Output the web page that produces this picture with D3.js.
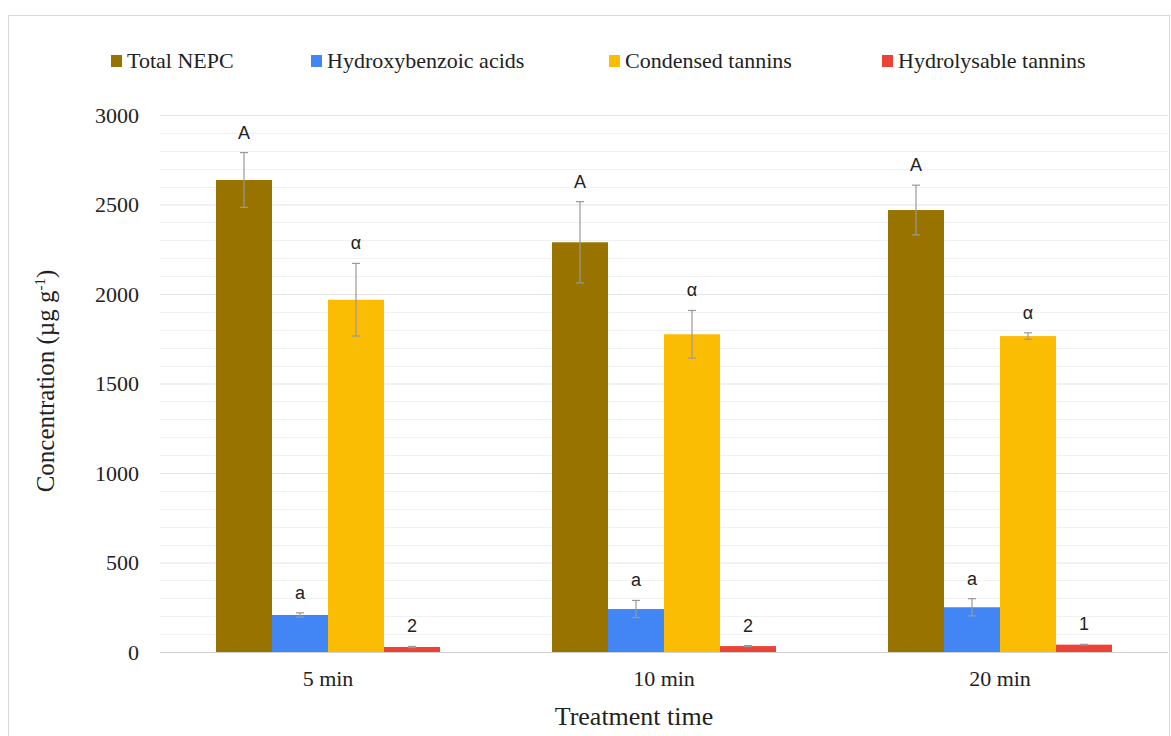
<!DOCTYPE html>
<html>
<head>
<meta charset="utf-8">
<script src="https://cdn.jsdelivr.net/npm/d3@7"></script>
<style>
  html, body { margin: 0; padding: 0; background: #fff; }
  svg { display: block; }
</style>
</head>
<body>
<svg id="chart" width="1171" height="736"></svg>
<script>
// Treatment times on the x axis
const categories = ["5 min", "10 min", "20 min"];
// Series names and colours
const seriesNames = ["Total NEPC", "Hydroxybenzoic acids", "Condensed tannins", "Hydrolysable tannins"];
const seriesColors = ["#997300", "#4285F4", "#FBBC04", "#EA4335"];

// Mean concentrations (µg g-1) and their error half-widths
const totalNEPC = [2637, 2289, 2469];
const totalNEPCErr = [153, 227, 139];
const hydroxybenzoic = [207, 240, 250];
const hydroxybenzoicErr = [12, 48, 48];
const condensedTannins = [1968, 1775, 1765];
const condensedTanninsErr = [203, 133, 18];
const hydrolysableTannins = [28, 33, 41];
const hydrolysableTanninsErr = [3, 3, 2];

// Significance letters above each bar
const totalNEPCLetters = ["A", "A", "A"];
const hydroxybenzoicLetters = ["a", "a", "a"];
const condensedLetters = ["α", "α", "α"];
const hydrolysableLetters = ["2", "2", "1"];

const yTicks = [0, 500, 1000, 1500, 2000, 2500, 3000];

const seriesValues = [totalNEPC, hydroxybenzoic, condensedTannins, hydrolysableTannins];
const seriesErrors = [totalNEPCErr, hydroxybenzoicErr, condensedTanninsErr, hydrolysableTanninsErr];
const seriesLetters = [totalNEPCLetters, hydroxybenzoicLetters, condensedLetters, hydrolysableLetters];

const rows = [];
categories.forEach((c, ci) => {
  seriesNames.forEach((s, si) => {
    rows.push({
      category: c, series: s, color: seriesColors[si],
      value: seriesValues[si][ci], err: seriesErrors[si][ci], letter: seriesLetters[si][ci]
    });
  });
});

const svg = d3.select("#chart");
const serif = "'Liberation Serif', 'Times New Roman', serif";
const sans = "'Liberation Sans', Arial, sans-serif";

// Outer frame
svg.append("rect")
  .attr("x", 8.5).attr("y", 15.5)
  .attr("width", 1161).attr("height", 740)
  .attr("fill", "#fff").attr("stroke", "#d9d9d9").attr("stroke-width", 1);

const plot = { left: 160, right: 1168, top: 115, bottom: 652 };

const y = d3.scaleLinear().domain([0, 3000]).range([plot.bottom, plot.top]);
const x0 = d3.scaleBand().domain(categories).range([plot.left, plot.right]).padding(0);
const bw = x0.bandwidth();
const x1 = d3.scaleBand().domain(seriesNames).range([bw / 6, bw * 5 / 6]).padding(0);

// Minor gridlines every 100
const minor = d3.range(100, 3001, 100).filter(v => v % 500 !== 0);
svg.append("g").selectAll("line").data(minor).join("line")
  .attr("x1", plot.left).attr("x2", plot.right)
  .attr("y1", d => Math.round(y(d)) + 0.5).attr("y2", d => Math.round(y(d)) + 0.5)
  .attr("stroke", "#f1f1f1").attr("stroke-width", 1);

// Major gridlines and tick labels
const yAxis = d3.axisLeft(y).tickValues(yTicks).tickFormat(d3.format("d")).tickSize(0).tickPadding(0);
const yg = svg.append("g").attr("transform", `translate(${plot.left},0)`).call(yAxis);
yg.select(".domain").remove();
yg.selectAll(".tick line")
  .attr("x2", plot.right - plot.left)
  .attr("stroke", d => d === 0 ? "#d0d0d0" : "#e4e4e4")
  .attr("stroke-width", 1.2);
yg.selectAll(".tick text")
  .attr("x", -21)
  .attr("dy", "0.34em")
  .style("font-family", serif)
  .style("font-size", "22px")
  .attr("fill", "#222");

// Bars
const groups = svg.append("g").selectAll("g").data(rows).join("g")
  .attr("transform", d => `translate(${x0(d.category) + x1(d.series)},0)`);

groups.append("rect")
  .attr("x", 0)
  .attr("y", d => y(d.value))
  .attr("width", x1.bandwidth())
  .attr("height", d => y(0) - y(d.value))
  .attr("fill", d => d.color);

// Error bars
const cx = x1.bandwidth() / 2;
groups.append("line")
  .attr("x1", cx).attr("x2", cx)
  .attr("y1", d => y(d.value + d.err)).attr("y2", d => y(d.value - d.err))
  .attr("stroke", "#999").attr("stroke-width", 1.2);
groups.append("line")
  .attr("x1", cx - 4).attr("x2", cx + 4)
  .attr("y1", d => y(d.value + d.err)).attr("y2", d => y(d.value + d.err))
  .attr("stroke", "#999").attr("stroke-width", 1.2);
groups.append("line")
  .attr("x1", cx - 4).attr("x2", cx + 4)
  .attr("y1", d => y(d.value - d.err)).attr("y2", d => y(d.value - d.err))
  .attr("stroke", "#999").attr("stroke-width", 1.2);

// Significance letters
groups.append("text")
  .attr("x", cx)
  .attr("y", d => y(d.value + d.err) - 14)
  .attr("text-anchor", "middle")
  .style("font-family", sans)
  .style("font-size", "18px")
  .attr("fill", "#222")
  .text(d => d.letter);

// Category labels
svg.append("g").selectAll("text").data(categories).join("text")
  .attr("x", d => x0(d) + bw / 2)
  .attr("y", 686)
  .attr("text-anchor", "middle")
  .style("font-family", serif)
  .style("font-size", "22px")
  .attr("fill", "#222")
  .text(d => d);

// Axis titles
svg.append("text")
  .attr("x", (plot.left + plot.right) / 2 - 30)
  .attr("y", 725)
  .attr("text-anchor", "middle")
  .style("font-family", serif)
  .style("font-size", "26px")
  .attr("fill", "#222")
  .text("Treatment time");

const yt = svg.append("text")
  .attr("transform", "translate(54,381) rotate(-90)")
  .attr("text-anchor", "middle")
  .style("font-family", serif)
  .style("font-size", "25px")
  .attr("fill", "#222");
yt.append("tspan").text("Concentration (µg g");
yt.append("tspan").attr("dy", -9).style("font-size", "15px").text("-1");
yt.append("tspan").attr("dy", 9).text(")");

// Legend
const legendX = [111, 311, 609, 882];
const leg = svg.append("g").selectAll("g").data(seriesNames).join("g")
  .attr("transform", (d, i) => `translate(${legendX[i]},55)`);
leg.append("rect")
  .attr("width", 11).attr("height", 12)
  .attr("fill", (d, i) => seriesColors[i]);
leg.append("text")
  .attr("x", 16).attr("y", 13)
  .style("font-family", serif)
  .style("font-size", "22px")
  .attr("fill", "#222")
  .text(d => d);
</script>
</body>
</html>
